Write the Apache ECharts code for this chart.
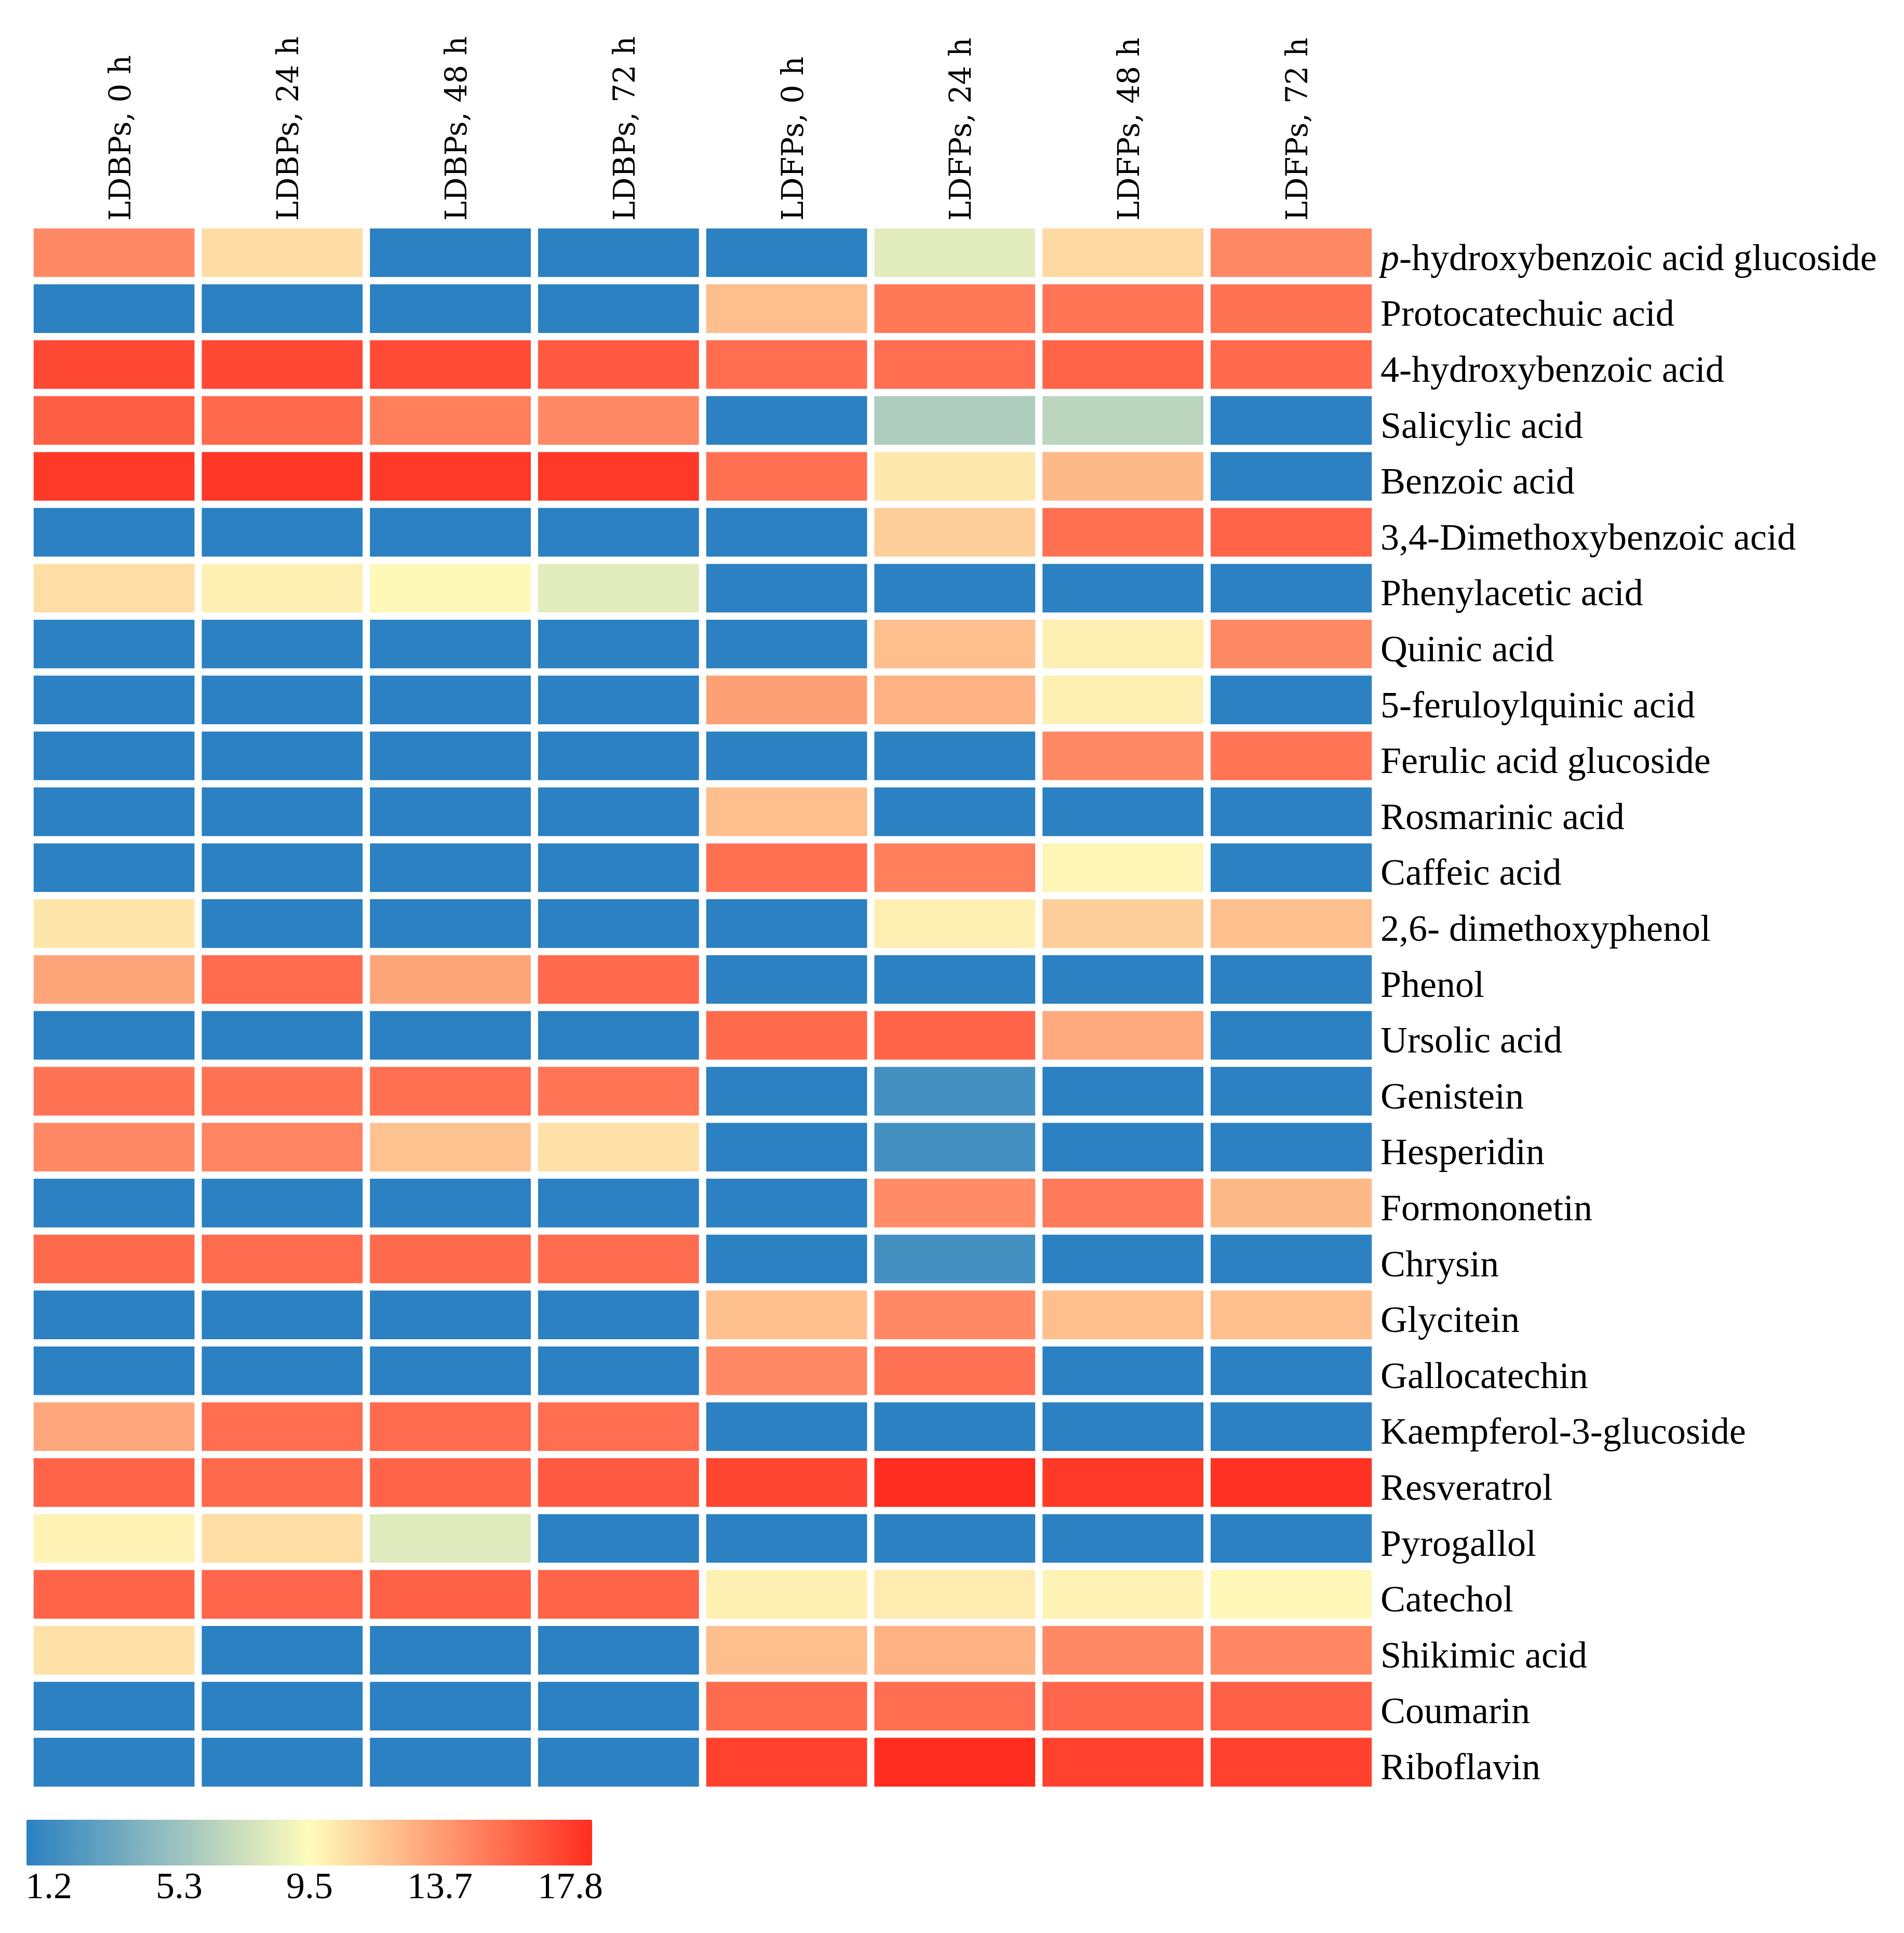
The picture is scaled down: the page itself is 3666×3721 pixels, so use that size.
<!DOCTYPE html>
<html>
<head>
<meta charset="utf-8">
<script src="https://cdn.jsdelivr.net/npm/echarts@6/dist/echarts.min.js"></script>
<style>
html,body{margin:0;padding:0;background:#ffffff;}
#c{width:3666px;height:3721px;}
</style>
</head>
<body>
<div id="c"></div>
<script>
// ---- data ----
const samples = ['LDBPs, 0 h', 'LDBPs, 24 h', 'LDBPs, 48 h', 'LDBPs, 72 h',
                 'LDFPs, 0 h', 'LDFPs, 24 h', 'LDFPs, 48 h', 'LDFPs, 72 h'];

const compounds = ['p-hydroxybenzoic acid glucoside', 'Protocatechuic acid', '4-hydroxybenzoic acid',
  'Salicylic acid', 'Benzoic acid', '3,4-Dimethoxybenzoic acid', 'Phenylacetic acid', 'Quinic acid',
  '5-feruloylquinic acid', 'Ferulic acid glucoside', 'Rosmarinic acid', 'Caffeic acid',
  '2,6- dimethoxyphenol', 'Phenol', 'Ursolic acid', 'Genistein', 'Hesperidin', 'Formononetin',
  'Chrysin', 'Glycitein', 'Gallocatechin', 'Kaempferol-3-glucoside', 'Resveratrol', 'Pyrogallol',
  'Catechol', 'Shikimic acid', 'Coumarin', 'Riboflavin'];

// one array per sample column, in compound order
const ldbp0  = [14.1, 1.2, 16.7, 15.8, 17.3, 1.2, 10.7, 1.2, 1.2, 1.2, 1.2, 1.2, 10.4, 13.0, 1.2, 15.0, 14.1, 1.2, 15.4, 1.2, 1.2, 12.9, 15.6, 9.9, 15.6, 10.6, 1.2, 1.2];
const ldbp24 = [10.8, 1.2, 16.7, 15.4, 17.4, 1.2, 10.0, 1.2, 1.2, 1.2, 1.2, 1.2, 1.2, 15.3, 1.2, 15.0, 14.3, 1.2, 15.3, 1.2, 1.2, 15.2, 15.4, 10.7, 15.5, 1.2, 1.2, 1.2];
const ldbp48 = [1.2, 1.2, 16.6, 14.5, 17.3, 1.2, 9.65, 1.2, 1.2, 1.2, 1.2, 1.2, 1.2, 13.0, 1.2, 15.1, 11.8, 1.2, 15.4, 1.2, 1.2, 15.3, 15.6, 8.3, 15.7, 1.2, 1.2, 1.2];
const ldbp72 = [1.2, 1.2, 16.0, 14.1, 17.3, 1.2, 8.4, 1.2, 1.2, 1.2, 1.2, 1.2, 1.2, 15.4, 1.2, 14.9, 10.6, 1.2, 15.3, 1.2, 1.2, 15.2, 16.0, 1.2, 15.6, 1.2, 1.2, 1.2];
const ldfp0  = [1.2, 12.0, 15.2, 1.2, 15.1, 1.2, 1.2, 1.2, 13.2, 1.2, 12.0, 15.1, 1.2, 1.2, 15.4, 1.2, 1.2, 1.2, 1.2, 11.9, 14.1, 1.2, 16.8, 1.2, 10.0, 12.0, 15.3, 17.0];
const ldfp24 = [8.4, 14.8, 15.2, 6.35, 10.3, 11.3, 1.2, 12.0, 12.5, 1.2, 1.2, 14.5, 10.0, 1.2, 15.6, 2.2, 2.2, 14.0, 2.2, 14.1, 15.0, 1.2, 17.8, 1.2, 10.2, 12.5, 15.2, 17.8];
const ldfp48 = [10.9, 14.9, 15.6, 6.85, 12.2, 15.1, 1.2, 10.0, 10.0, 14.1, 1.2, 9.8, 11.3, 1.2, 12.8, 1.2, 1.2, 14.7, 1.2, 12.0, 1.2, 1.2, 17.3, 1.2, 9.9, 14.1, 15.5, 17.0];
const ldfp72 = [14.1, 15.0, 15.4, 1.2, 1.2, 15.6, 1.2, 14.1, 1.2, 14.9, 1.2, 1.2, 11.9, 1.2, 1.2, 1.2, 1.2, 12.2, 1.2, 12.0, 1.2, 1.2, 17.6, 1.2, 9.7, 14.2, 15.7, 17.0];

const colorbarTicks = ['1.2', '5.3', '9.5', '13.7', '17.8'];
const scaleMin = 1.2, scaleMax = 17.8;

// ---- build ----
const columns = [ldbp0, ldbp24, ldbp48, ldbp72, ldfp0, ldfp24, ldfp48, ldfp72];
const cells = [];
columns.forEach((col, c) => col.forEach((v, r) => cells.push([c, r, v])));

const chart = echarts.init(document.getElementById('c'), null, {renderer: 'canvas'});
chart.setOption({
  backgroundColor: '#ffffff',
  animation: false,
  grid: [
    {left: 58, top: 433, width: 2590, height: 3013, containLabel: false},
    {left: 94, top: 3500, width: 1004, height: 91, containLabel: false}
  ],
  xAxis: [
    {
      type: 'category', gridIndex: 0, data: samples, position: 'top',
      axisLine: {show: false}, axisTick: {show: false}, splitLine: {show: false},
      axisLabel: {rotate: -90, interval: 0, margin: 8, color: '#000',
                  verticalAlign: 'top', lineHeight: 32,
                  fontFamily: 'DejaVu Serif', fontSize: 57}
    },
    {
      type: 'category', gridIndex: 1, data: colorbarTicks, boundaryGap: false, position: 'bottom',
      axisLine: {show: false}, axisTick: {show: false}, splitLine: {show: false},
      axisLabel: {interval: 0, margin: 8, color: '#000',
                  fontFamily: 'Liberation Serif', fontSize: 72}
    }
  ],
  yAxis: [
    {
      type: 'category', gridIndex: 0, data: compounds, inverse: true, position: 'right',
      axisLine: {show: false}, axisTick: {show: false}, splitLine: {show: false},
      axisLabel: {
        interval: 0, margin: 10, color: '#000', fontFamily: 'Liberation Serif', fontSize: 72,
        padding: [28, 0, 0, 0],
        formatter: function (val) {
          if (val.indexOf('p-') === 0) return '{i|p}{n|' + val.slice(1) + '}';
          return val;
        },
        rich: {
          i: {fontStyle: 'italic', fontFamily: 'Liberation Serif', fontSize: 72, color: '#000'},
          n: {fontFamily: 'Liberation Serif', fontSize: 72, color: '#000'}
        }
      }
    },
    {type: 'value', gridIndex: 1, show: false}
  ],
  visualMap: {
    type: 'continuous', seriesIndex: 0, min: scaleMin, max: scaleMax,
    orient: 'horizontal', left: 51, top: 3503, padding: 0,
    itemWidth: 88, itemHeight: 1089, calculable: false, hoverLink: false,
    text: null, showLabel: false,
    inRange: {color: ['#2b81c1', '#fefcbc', '#ff2d1f']}
  },
  series: [{
    type: 'heatmap', xAxisIndex: 0, yAxisIndex: 0, data: cells,
    itemStyle: {borderColor: '#ffffff', borderWidth: 14},
    emphasis: {disabled: true}, label: {show: false}
  }]
});
</script>
</body>
</html>
